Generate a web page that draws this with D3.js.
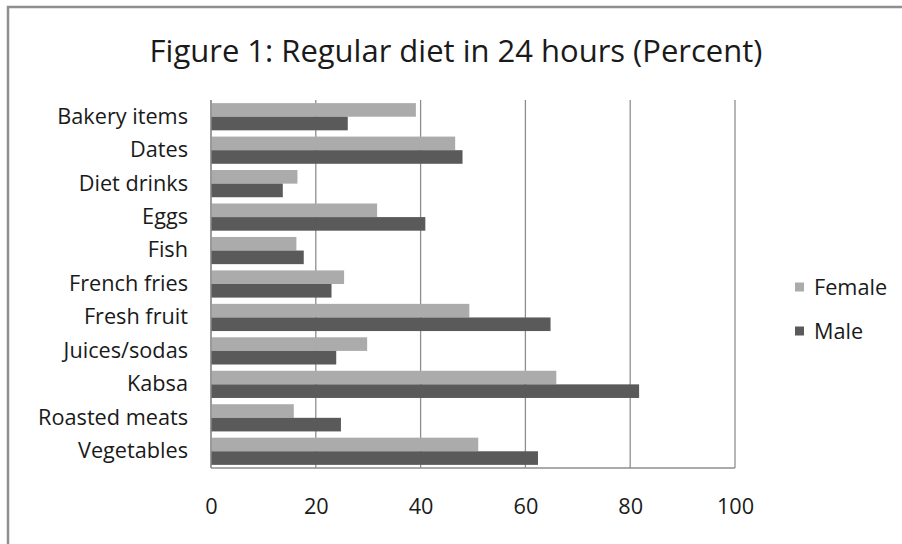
<!DOCTYPE html>
<html>
<head>
<meta charset="utf-8">
<script src="https://cdn.jsdelivr.net/npm/d3@7"></script>
<style>
  html, body { margin: 0; padding: 0; background: #fff; }
  svg { display: block; }
  text { font-family: "Open Sans", Lato, "DejaVu Sans", sans-serif; fill: #1a1a1a; }
</style>
</head>
<body>
<svg id="chart" width="902" height="544"></svg>
<script>
const categories = ["Bakery items", "Dates", "Diet drinks", "Eggs", "Fish", "French fries",
  "Fresh fruit", "Juices/sodas", "Kabsa", "Roasted meats", "Vegetables"];
const femaleValues = [39.1, 46.6, 16.5, 31.7, 16.3, 25.4, 49.3, 29.8, 65.9, 15.8, 51.0];
const maleValues   = [26.1, 48.0, 13.7, 40.9, 17.7, 23.0, 64.8, 23.9, 81.7, 24.8, 62.4];
const seriesNames = ["Female", "Male"];
const xTicks = [0, 20, 40, 60, 80, 100];
const titleText = "Figure 1: Regular diet in 24 hours (Percent)";

const colors = { Female: "#ababab", Male: "#5a5a5a" };
const FONT = "'Open Sans', Lato, sans-serif";

const svg = d3.select("#chart");
const W = 902, H = 544;
const plot = { left: 211, right: 735, top: 100, bottom: 468 };

// size a text selection so that a reference string reaches a target width
function fitSize(sampleSel, target) {
  const w = sampleSel.node().getComputedTextLength();
  const fs = parseFloat(sampleSel.attr("font-size"));
  return fs * target / w;
}

// outer frame
svg.append("path")
  .attr("d", `M8,${H} L8,7 L${W},7`)
  .attr("fill", "none").attr("stroke", "#8f8f8f").attr("stroke-width", 2.5);

const x = d3.scaleLinear().domain([0, 100]).range([plot.left, plot.right]);
const y = d3.scaleBand().domain(categories).range([plot.top, plot.bottom]).paddingInner(0).paddingOuter(0);
const inner = d3.scaleBand().domain(seriesNames).range([0, y.bandwidth()]).paddingInner(0).paddingOuter(0.23);

// gridlines
svg.append("g").selectAll("line").data(xTicks).join("line")
  .attr("x1", d => x(d)).attr("x2", d => x(d))
  .attr("y1", plot.top).attr("y2", plot.bottom)
  .attr("stroke", "#8e8e8e").attr("stroke-width", 1.3);

// bars
const data = categories.map((c, i) => ({ cat: c, Female: femaleValues[i], Male: maleValues[i] }));
const groups = svg.append("g").selectAll("g").data(data).join("g")
  .attr("transform", d => `translate(0,${y(d.cat)})`);
groups.selectAll("rect").data(d => seriesNames.map(s => ({ s, v: d[s] }))).join("rect")
  .attr("x", x(0))
  .attr("y", d => inner(d.s))
  .attr("width", d => x(d.v) - x(0))
  .attr("height", inner.bandwidth())
  .attr("fill", d => colors[d.s]);

// axis lines
svg.append("line")
  .attr("x1", plot.left).attr("x2", plot.right)
  .attr("y1", plot.bottom).attr("y2", plot.bottom)
  .attr("stroke", "#8e8e8e").attr("stroke-width", 1.3);
svg.append("line")
  .attr("x1", plot.left).attr("x2", plot.left)
  .attr("y1", plot.top).attr("y2", plot.bottom)
  .attr("stroke", "#8e8e8e").attr("stroke-width", 1.3);

// measure label font size: "Roasted meats" spans ~150px in the reference
const probe = svg.append("text").attr("font-size", 20).style("font-family", FONT).text("Roasted meats");
const labelSize = fitSize(probe, 150);
probe.remove();

// x tick labels
const xAxis = d3.axisBottom(x).tickValues(xTicks).tickSize(0).tickPadding(0).tickFormat(d3.format("d"));
const xg = svg.append("g").attr("transform", `translate(0,${plot.bottom + 46})`).call(xAxis);
xg.select(".domain").remove();
xg.selectAll("text").attr("font-size", labelSize).attr("fill", "#1a1a1a").attr("dy", "0")
  .style("font-family", FONT);

// y category labels
const yAxis = d3.axisLeft(y).tickSize(0).tickPadding(23);
const yg = svg.append("g").attr("transform", `translate(${plot.left},0)`).call(yAxis);
yg.select(".domain").remove();
yg.selectAll("text").attr("font-size", labelSize).attr("fill", "#1a1a1a")
  .style("font-family", FONT);

// title (spans ~613px in the reference)
const title = svg.append("text")
  .attr("x", 456).attr("y", 62)
  .attr("text-anchor", "middle")
  .attr("font-size", 28)
  .style("font-family", FONT)
  .text(titleText);
title.attr("font-size", fitSize(title, 613));

// legend
const legend = svg.append("g").selectAll("g").data(seriesNames).join("g")
  .attr("transform", (d, i) => `translate(795,${287 + i * 44})`);
legend.append("rect").attr("x", 0).attr("y", -4.5).attr("width", 9).attr("height", 9)
  .attr("fill", d => colors[d]);
legend.append("text").attr("x", 19).attr("y", 0).attr("dy", "0.35em")
  .attr("font-size", labelSize).style("font-family", FONT).text(d => d);
</script>
</body>
</html>
